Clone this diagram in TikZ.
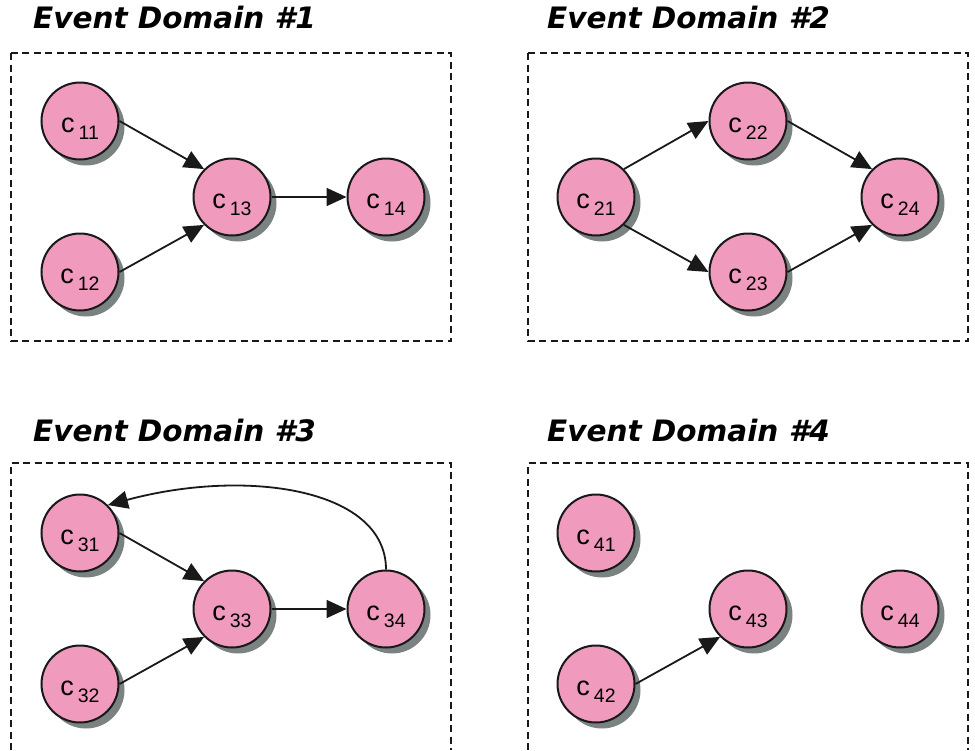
\documentclass[tikz,border=0pt]{standalone}
\usepackage{fontspec}
\newfontfamily\titlefont{DejaVu Sans}
\newfontfamily\labelfont{Liberation Sans}
\usepackage{tikz}
\usetikzlibrary{arrows.meta,shadows,positioning,calc}
\definecolor{evtpink}{RGB}{240,155,190}
\definecolor{shadowgray}{RGB}{122,130,130}
\newcommand{\csub}[1]{c\hspace{4pt}\raisebox{-7.5pt}{\fontsize{19.5pt}{19.5pt}\selectfont #1}}

\begin{document}
\begin{tikzpicture}[x=1pt,y=-1pt,
    >={Triangle[length=20pt,width=18pt]},
    evt/.style={circle,draw=black!90,line width=2pt,fill=evtpink,minimum size=77pt,inner sep=0pt,
      text height=24pt,text depth=2pt,font=\labelfont\fontsize{27pt}{28pt}\selectfont,
      drop shadow={shadow xshift=6pt,shadow yshift=-6pt,fill=shadowgray,opacity=1}},
    domtitle/.style={anchor=base west,inner sep=0pt,font=\titlefont\bfseries\itshape\fontsize{29.5pt}{30pt}\selectfont},
    dombox/.style={line width=2pt,dash pattern=on 7pt off 4.5pt,black!90},
    link/.style={->,line width=1.8pt,black!90}]
        \useasboundingbox (0,0) rectangle (975,750);
        % domain frames and titles
        \node [domtitle] (t1) at (33,28) {Event Domain \#1};
        \node [domtitle] (t2) at (547,28) {Event Domain \#2};
        \node [domtitle] (t3) at (33,441) {Event Domain \#3};
        \node [domtitle] (t4) at (547,441) {Event Domain \#4};
        \draw [dombox] (11,53) rectangle (451,341);
        \draw [dombox] (528,53) rectangle (968,341);
        \draw [dombox] (11,750) -- (11,463) -- (451,463) -- (451,750);
        \draw [dombox] (528,750) -- (528,463) -- (968,463) -- (968,750);
        % domain 1
        \node [evt] (c11) at (80,121) {\csub{11}};
        \node [evt] (c12) at (80,272) {\csub{12}};
        \node [evt] (c13) at (232,197) {\csub{13}};
        \node [evt] (c14) at (386,197) {\csub{14}};
        \draw [link] (c11.east) -- (c13.135);
        \draw [link] (c12.east) -- (c13.225);
        \draw [link] (c13.east) -- (c14.west);
        % domain 2
        \node [evt] (c21) at (596,197) {\csub{21}};
        \node [evt] (c22) at (748,121) {\csub{22}};
        \node [evt] (c23) at (748,272) {\csub{23}};
        \node [evt] (c24) at (900,197) {\csub{24}};
        \draw [link] (c21.45) -- (c22.west);
        \draw [link] (c21.-45) -- (c23.west);
        \draw [link] (c22.east) -- (c24.135);
        \draw [link] (c23.east) -- (c24.225);
        % domain 3
        \node [evt] (c31) at (80,533) {\csub{31}};
        \node [evt] (c32) at (80,684) {\csub{32}};
        \node [evt] (c33) at (232,609) {\csub{33}};
        \node [evt] (c34) at (386,609) {\csub{34}};
        \draw [link] (c31.east) -- (c33.135);
        \draw [link] (c32.east) -- (c33.225);
        \draw [link] (c33.east) -- (c34.west);
        \draw [link] (c34.north) .. controls (386,488) and (245,468) .. (c31.45);
        % domain 4
        \node [evt] (c41) at (596,533) {\csub{41}};
        \node [evt] (c42) at (596,684) {\csub{42}};
        \node [evt] (c43) at (748,609) {\csub{43}};
        \node [evt] (c44) at (900,609) {\csub{44}};
        \draw [link] (c42.east) -- (c43.225);
\end{tikzpicture}
\end{document}
